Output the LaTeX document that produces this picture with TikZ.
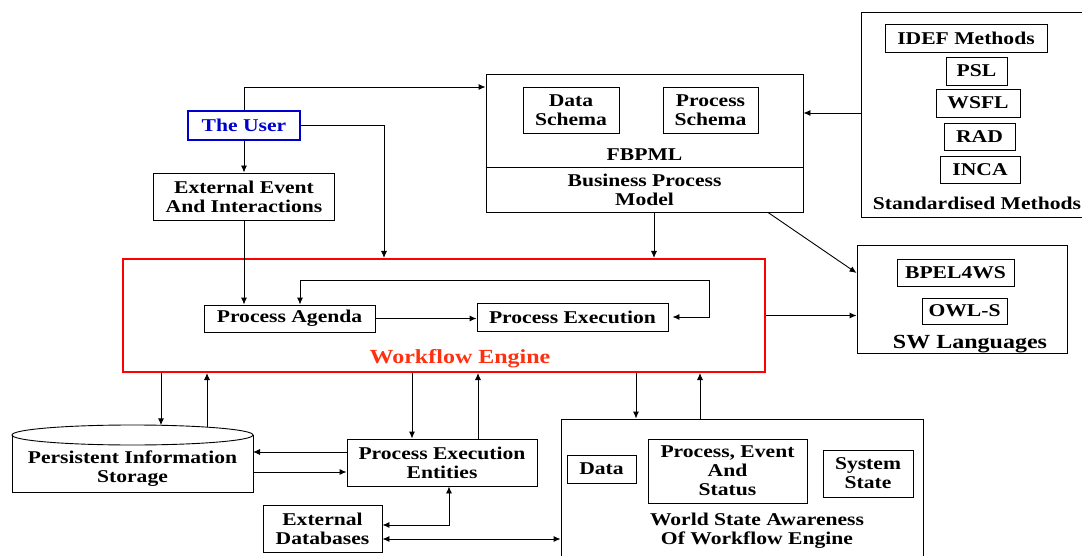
\documentclass[tikz,border=0pt]{standalone}
\usepackage{fontspec}
\setmainfont{Liberation Serif}[FakeStretch=1.2]
\usetikzlibrary{arrows.meta}

\definecolor{userblue}{RGB}{0,0,204}
\definecolor{enginered}{RGB}{255,0,0}
\definecolor{labelred}{RGB}{255,48,16}

\begin{document}
\begin{tikzpicture}[x=1pt,y=-1pt,line width=0.9pt,
        >={Latex[length=7pt,width=6pt]},
        every node/.style={font=\bfseries\fontsize{18}{19}\selectfont, align=center, inner sep=0pt},
        box/.style={draw, line width=0.9pt},
        bigtxt/.style={font=\bfseries\fontsize{20}{22}\selectfont}]

        \useasboundingbox (0,0) rectangle (1082,556);

        \node[box, draw=userblue, line width=2pt, text=userblue, minimum width=112pt, minimum height=29pt] (user) at (244,125.5) {The User};
        \node[box, minimum width=181pt, minimum height=47pt] (extev) at (244,196.5) {External Event\\And Interactions};

        \node[box, minimum width=317pt, minimum height=138pt] (fbpml) at (644.5,143) {};
        \node[box, minimum width=96pt, minimum height=46pt] (dschema) at (571,110) {Data\\Schema};
        \node[box, minimum width=95pt, minimum height=46pt] (pschema) at (710.5,110) {Process\\Schema};
        \node (fbpmltxt) at (644.5,155) {FBPML};
        \draw (fbpml.west |- 0,167) -- (fbpml.east |- 0,167);
        \node (bpm) at (644.5,190) {Business Process\\Model};

        \node[box, minimum width=229pt, minimum height=205pt] (std) at (975.5,114.5) {};
        \node[box, minimum width=162pt, minimum height=28pt] (idef) at (966,38) {IDEF Methods};
        \node[box, minimum width=61pt, minimum height=28pt] (psl) at (976.5,71) {PSL};
        \node[box, minimum width=84pt, minimum height=28pt] (wsfl) at (978,103) {WSFL};
        \node[box, minimum width=71pt, minimum height=27pt] (rad) at (979.5,136.5) {RAD};
        \node[box, minimum width=80pt, minimum height=27pt] (inca) at (980,169.5) {INCA};
        \node (stdtxt) at (977,203) {Standardised Methods};

        \node[box, minimum width=210pt, minimum height=108pt] (sw) at (962,299) {};
        \node[box, minimum width=117pt, minimum height=27pt] (bpel) at (955.5,272.5) {BPEL4WS};
        \node[box, minimum width=85pt, minimum height=26pt] (owls) at (964.5,311) {OWL-S};
        \node[bigtxt] (swtxt) at (970,344) {SW Languages};

        \node[box, draw=enginered, line width=2pt, minimum width=642pt, minimum height=113pt] (engine) at (444,315.5) {};
        \node[box, minimum width=171pt, minimum height=27pt] (agenda) at (289.5,318.5) {Process Agenda};
        \node[box, minimum width=191pt, minimum height=28pt] (exec) at (572.5,317) {Process Execution};
        \node[bigtxt, text=labelred] (wftxt) at (460,359) {Workflow Engine};

        \draw (12,435) -- (12,492) -- (253,492) -- (253,435);
        \draw (132.5,435) ellipse [x radius=120.5, y radius=10];
        \node (store) at (132.5,468.5) {Persistent Information\\Storage};
        \coordinate (cylin) at (161,425.3);
        \coordinate (cylout) at (207,427.1);
        \coordinate (cylr1) at (253,452);
        \coordinate (cylr2) at (253,472);

        \node[box, minimum width=190pt, minimum height=47pt] (pee) at (442,462.5) {Process Execution\\Entities};
        \node[box, minimum width=119pt, minimum height=47pt] (extdb) at (322.5,528.5) {External\\Databases};

        \node[box, minimum width=362pt, minimum height=145pt] (world) at (742,491.5) {};
        \node[box, minimum width=69pt, minimum height=28pt] (wdata) at (601.5,469) {Data};
        \node[box, minimum width=159pt, minimum height=64pt] (pes) at (727.5,471) {Process, Event\\And\\Status};
        \node[box, minimum width=90pt, minimum height=47pt] (sysstate) at (868,473.5) {System\\State};
        \node (worldtxt) at (757,531) {World State Awareness\\Of Workflow Engine};

        \draw[->] (user.north) |- (fbpml.west |- 0,87);
        \draw[->] (user.east) -| (engine.north -| 384,0);
        \draw[->] (user.south) -- (extev.north);
        \draw[->] (extev.south) -- (extev.south |- agenda.north);
        \draw[->] (std.west |- 0,113) -- (fbpml.east |- 0,113);
        \draw[->] (fbpml.south -| 654,0) -- (engine.north -| 654,0);
        \draw[->] (fbpml.south -| 768,0) -- (sw.west |- 0,273);
        \draw[->] (engine.east) -- (engine.east -| sw.west);
        \draw[->] (agenda.east) -- (agenda.east -| exec.west);
        \draw[<->] ([xshift=4pt]exec.east) -- ++(37,0) |- (300,280) -- (agenda.north -| 300,0);

        \draw[->] (engine.south -| 161,0) -- (cylin);
        \draw[->] (cylout) -- (engine.south -| 207,0);
        \draw[->] (engine.south -| 412,0) -- (pee.north -| 412,0);
        \draw[->] (pee.north -| 478,0) -- (engine.south -| 478,0);
        \draw[->] (engine.south -| 636,0) -- (world.north -| 636,0);
        \draw[->] (world.north -| 700,0) -- (engine.south -| 700,0);
        \draw[->] (pee.west |- 0,452) -- (cylr1);
        \draw[->] (cylr2) -- (pee.west |- 0,472);
        \draw[<->] (pee.south -| 449,0) |- (extdb.east |- 0,525);
        \draw[<->] (extdb.east |- 0,539) -- (world.west |- 0,539);
    \end{tikzpicture}
\end{document}
